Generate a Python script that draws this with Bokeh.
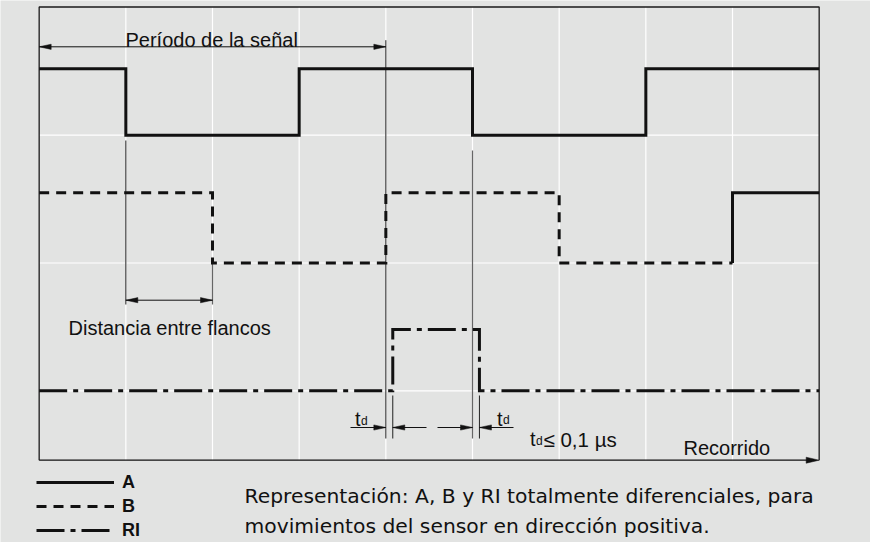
from bokeh.plotting import figure
from bokeh.models import Range1d, Label, Legend, LegendItem
from bokeh.embed import file_html
from bokeh.resources import INLINE

# ---------------- data (grid units along "Recorrido") ----------------
grid_x = [1, 2, 3, 4, 5, 6, 7, 8]          # vertical grid lines
grid_y = [1, 2, 3]                          # horizontal grid lines
x_start, x_end = 0, 9                       # travel shown
a_edges = [1, 3, 5, 7]                      # signal A transitions
a_levels = (3.0, 3.52)                      # (low, high)
b_edges = [2, 4, 6, 8]                      # signal B transitions
b_levels = (2.0, 2.55)
ri_edges = [4.08, 5.08]                     # reference pulse RI
ri_levels = (1.0, 1.48)

# ---------------- layout helpers (reference pixel -> data) ----------------
PX, X0 = 86.667, 46.667
PY, Y1 = 127.8, 398.3
def X(px): return (px - X0) / PX
def Y(py): return 1 - (py - Y1) / PY

BG = "#e2e3e2"
FONT = "Liberation Sans"
CAP_FONT = "DejaVu Sans"
INK = "#111111"
FIG_W, FIG_H = 870, 542
LEFT, TOP = 8, 8

p = figure(width=FIG_W, height=FIG_H,
           x_range=Range1d(X(LEFT), X(LEFT + FIG_W)),
           y_range=Range1d(Y(TOP + FIG_H), Y(TOP)),
           output_backend="svg", toolbar_location=None,
           x_axis_location=None, y_axis_location=None,
           min_border=0, min_border_left=0, min_border_right=0,
           min_border_top=0, min_border_bottom=0,
           background_fill_color=BG, border_fill_color=BG,
           outline_line_color=None)
p.xgrid.visible = False
p.ygrid.visible = False

box_top = Y(14.5)
axis_y = Y(467.7)

# grid (white)
p.segment(x0=grid_x, y0=[axis_y] * len(grid_x), x1=grid_x, y1=[box_top] * len(grid_x),
          line_color="white", line_width=1.2)
p.segment(x0=[x_start] * len(grid_y), y0=grid_y, x1=[x_end] * len(grid_y), y1=grid_y,
          line_color="white", line_width=1.2)

# plot box (left, top, right)
p.line([x_start, x_start, x_end, x_end], [axis_y, box_top, box_top, axis_y],
       line_color="#1a1a1a", line_width=1.3)

# thin reference lines
p.segment(x0=[a_edges[0], b_edges[1], ri_edges[0], ri_edges[1]],
          y0=[Y(148), Y(47.7), Y(403), Y(403)],
          x1=[a_edges[0], b_edges[1], ri_edges[0], ri_edges[1]],
          y1=[Y(312), Y(446), Y(446), Y(446)],
          line_color="#222222", line_width=1)
p.segment(x0=[b_edges[0], a_edges[2]], y0=[b_levels[0], Y(158)],
          x1=[b_edges[0], a_edges[2]], y1=[Y(312), Y(446)],
          line_color="#666666", line_width=1.2)


def steps(edges, start_high, levels):
    lo, hi = levels
    lvl = hi if start_high else lo
    xs, ys = [x_start], [lvl]
    for e in edges:
        xs.append(e); ys.append(lvl)
        lvl = lo if lvl == hi else hi
        xs.append(e); ys.append(lvl)
    xs.append(x_end); ys.append(lvl)
    return xs, ys


ax, ay = steps(a_edges, True, a_levels)
bx, by = steps(b_edges, True, b_levels)
rx, ry = steps(ri_edges, False, ri_levels)

rA = p.line(ax, ay, line_color=INK, line_width=3, line_join="miter")
rB = p.line(bx[:8], by[:8], line_color=INK, line_width=3, line_dash="10 7", line_join="miter")
p.line(bx[7:], by[7:], line_color=INK, line_width=3, line_join="miter")
rRI = p.line(rx, ry, line_color=INK, line_width=3, line_dash="28 6 5 6", line_join="miter")

# ---------------- dimension arrows ----------------
shafts = [  # (x0, x1, y)
    (x_start, b_edges[1], Y(54.3)),
    (a_edges[0], b_edges[0], Y(307.7)),
    (X(358), b_edges[1], Y(435)),
    (ri_edges[0], X(434), Y(435)),
    (X(445), a_edges[2], Y(435)),
    (ri_edges[1], X(521), Y(435)),
]
p.segment(x0=[s[0] for s in shafts], y0=[s[2] for s in shafts],
          x1=[s[1] for s in shafts], y1=[s[2] for s in shafts],
          line_color=INK, line_width=1)

heads = [  # (tip x, tip y, direction)
    (x_start, Y(54.3), -1), (b_edges[1], Y(54.3), 1),
    (a_edges[0], Y(307.7), -1), (b_edges[0], Y(307.7), 1),
    (b_edges[1], Y(435), 1),
    (ri_edges[0], Y(435), -1),
    (a_edges[2], Y(435), 1),
    (ri_edges[1], Y(435), -1),
]
hx, hy = [], []
for tx, ty, d in heads:
    L, hw = 12, 2.6
    bxx = tx - d * L / PX
    hx.append([tx, bxx, bxx]); hy.append([ty, ty + hw / PY, ty - hw / PY])
# axis arrow head
hx.append([x_end, x_end - 13 / PX, x_end - 13 / PX])
hy.append([axis_y, axis_y + 3 / PY, axis_y - 3 / PY])
p.patches(hx, hy, fill_color=INK, line_color=INK, line_width=0.5)

# bottom axis ("Recorrido")
p.segment(x0=[x_start], y0=[axis_y], x1=[x_end - 6 / PX], y1=[axis_y], line_color=INK, line_width=1.3)

# ---------------- texts ----------------
def label(txt, px, py, size="20px", font=FONT):
    p.add_layout(Label(x=X(px), y=Y(py), text=txt, text_font=font, text_font_size=size,
                       text_color=INK, text_align="left", text_baseline="alphabetic"))

label("Período de la señal", 133, 47.7)
label("Distancia entre flancos", 76, 335.7)
label("t", 362.5, 426.7); label("d", 368.5, 428.2, size="12px")
label("t", 504.5, 426.2); label("d", 510.5, 427.7, size="12px")
label("t", 537.5, 446.5); label("d", 543.5, 448, size="12px")
label("≤ 0,1 µs", 551, 446.5, size="20.5px")
label("Recorrido", 691, 455)
label("Representación: A, B y RI totalmente diferenciales, para", 252, 503.3,
      size="20.3px", font=CAP_FONT)
label("movimientos del sensor en dirección positiva.", 252, 533.3,
      size="20.3px", font=CAP_FONT)

# ---------------- legend ----------------
legend = Legend(items=[LegendItem(label="A", renderers=[rA]),
                       LegendItem(label="B", renderers=[rB]),
                       LegendItem(label="RI", renderers=[rRI])],
                location=(36, 0), orientation="vertical",
                glyph_width=78, glyph_height=24, label_height=24, spacing=0,
                padding=0, margin=0, label_standoff=8,
                label_text_font=FONT, label_text_font_style="bold",
                label_text_font_size="18px", label_text_color=INK,
                background_fill_alpha=0, border_line_color=None)
p.add_layout(legend)

open("out.html", "w").write(file_html(p, INLINE))
